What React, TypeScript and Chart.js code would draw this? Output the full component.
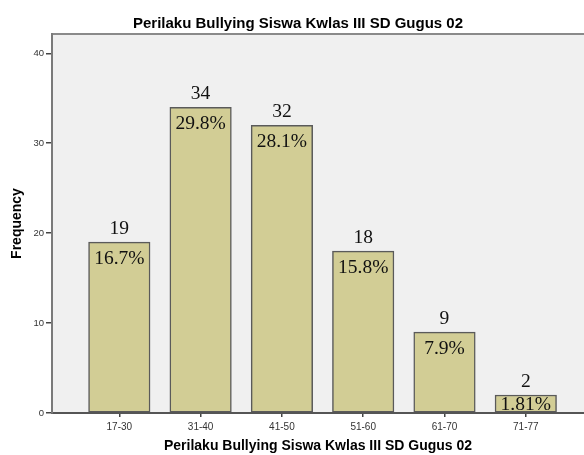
import React, { useEffect, useRef } from "react";
import { Chart, registerables } from "chart.js";

Chart.register(...registerables);

const categories = ["17-30", "31-40", "41-50", "51-60", "61-70", "71-77"];
const counts = [19, 34, 32, 18, 9, 2];
const percentLabels = ["16.7%", "29.8%", "28.1%", "15.8%", "7.9%", "1.81%"];
const yTicks = [0, 10, 20, 30, 40];
const titleText = "Perilaku Bullying Siswa Kwlas III SD Gugus 02";

const backgroundPlugin = {
  id: "plotBackground",
  beforeDraw(chart: any) {
    const { ctx, chartArea } = chart;
    if (!chartArea) return;
    ctx.save();
    ctx.fillStyle = "#f0f0f0";
    ctx.fillRect(chartArea.left, chartArea.top, chartArea.right - chartArea.left, chartArea.bottom - chartArea.top);
    ctx.strokeStyle = "#8a8a8a";
    ctx.lineWidth = 2;
    ctx.beginPath();
    ctx.moveTo(chartArea.left, chartArea.top);
    ctx.lineTo(chartArea.right, chartArea.top);
    ctx.stroke();
    ctx.restore();
  },
};

const barLabelPlugin = {
  id: "barLabels",
  afterDatasetsDraw(chart: any) {
    const { ctx } = chart;
    const meta = chart.getDatasetMeta(0);
    ctx.save();
    ctx.font = "19.5px 'Liberation Serif', 'Times New Roman', serif";
    ctx.fillStyle = "#111";
    ctx.textAlign = "center";
    ctx.textBaseline = "middle";
    meta.data.forEach((bar: any, i: number) => {
      const h = bar.base - bar.y;
      ctx.fillText(String(counts[i]), bar.x, bar.y - 13.5);
      const off = Math.min(17, h / 2 + 1);
      ctx.fillText(percentLabels[i], bar.x, bar.y + off);
    });
    ctx.restore();
  },
};

export default function App() {
  const ref = useRef<HTMLCanvasElement | null>(null);
  useEffect(() => {
    if (!ref.current) return;
    const chart = new Chart(ref.current, {
      type: "bar",
      data: {
        datasets: [
          {
            label: "Frequency",
            data: categories.map((c, i) => ({ x: i + 1, y: counts[i] })),
            backgroundColor: "#d2cd95",
            borderColor: "#5a5a5a",
            borderWidth: 1.5,
            borderSkipped: false,
            barThickness: 61.5,
          },
        ],
      },
      options: {
        responsive: false,
        animation: false,
        layout: { padding: { left: 12, right: 0, top: 0, bottom: 0 } },
        plugins: {
          legend: { display: false },
          tooltip: { enabled: false },
          title: {
            display: true,
            text: titleText,
            color: "#000",
            font: { family: "'Liberation Sans', Arial, sans-serif", size: 15, weight: "bold" },
            padding: { top: 15, bottom: 1 },
          },
        },
        scales: {
          x: {
            type: "linear",
            offset: false,
            min: 0.172,
            max: 6.716,
            afterBuildTicks: (scale: any) => {
              scale.ticks = categories.map((_, i) => ({ value: i + 1 }));
            },
            afterFit: (scale: any) => {
              scale.height = 42;
            },
            ticks: {
              callback: (v: any) => categories[Math.round(Number(v)) - 1] ?? "",
              color: "#333",
              font: { family: "'Liberation Sans', Arial, sans-serif", size: 10 },
              padding: 4,
              maxRotation: 0,
              autoSkip: false,
            },
            grid: { display: true, offset: false, drawOnChartArea: false, drawTicks: true, tickLength: 4, color: "#444", lineWidth: 1.5 },
            border: { display: true, color: "#555", width: 2 },
            title: {
              display: true,
              text: titleText,
              color: "#000",
              font: { family: "'Liberation Sans', Arial, sans-serif", size: 14, weight: "bold" },
              padding: { top: 0, bottom: 0 },
            },
          },
          y: {
            min: 0,
            max: 42.15,
            afterBuildTicks: (scale: any) => {
              scale.ticks = yTicks.map((v) => ({ value: v }));
            },
            afterFit: (scale: any) => {
              scale.width = 40;
            },
            ticks: {
              stepSize: 10,
              includeBounds: false,
              color: "#333",
              font: { family: "'Liberation Sans', Arial, sans-serif", size: 9.5 },
              padding: 2,
            },
            grid: { display: true, drawOnChartArea: false, drawTicks: true, tickLength: 6, color: "#444", lineWidth: 1.5 },
            border: { display: true, color: "#7a7a7a", width: 2 },
            title: {
              display: true,
              text: "Frequency",
              color: "#000",
              font: { family: "'Liberation Sans', Arial, sans-serif", size: 14, weight: "bold" },
              padding: { top: -3.7, bottom: 0 },
            },
          },
        },
      },
      plugins: [backgroundPlugin, barLabelPlugin],
    } as any);
    return () => chart.destroy();
  }, []);
  return (
    <div style={{ position: "absolute", left: 0, top: 0, width: 584, height: 455, background: "#fff" }}>
      <canvas ref={ref} width={584} height={455} />
    </div>
  );
}
